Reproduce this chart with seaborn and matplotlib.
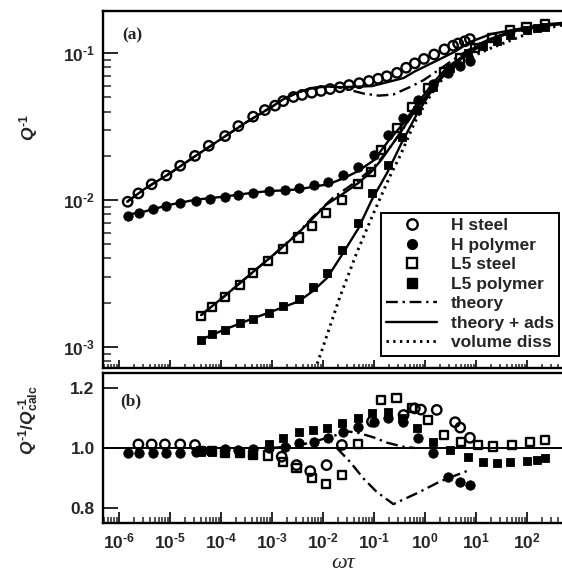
import numpy as np
import matplotlib
matplotlib.use("Agg")
import matplotlib.pyplot as plt
import seaborn as sns
from matplotlib.lines import Line2D
from matplotlib.ticker import FixedLocator, LogLocator, NullFormatter, NullLocator

# ---------------- data (log10 values) ----------------
# panel (a): measured Q^-1 versus omega*tau
hsteel_lx = [-5.83, -5.62, -5.36, -5.07, -4.80, -4.51, -4.24, -3.92, -3.66, -3.37, -3.14, -2.94,
             -2.78, -2.58, -2.41, -2.22, -2.04, -1.86, -1.67, -1.49, -1.29, -1.10, -0.92, -0.75,
             -0.55, -0.37, -0.20, -0.02, 0.18, 0.38, 0.55, 0.65, 0.78, 0.88]
hsteel_ly = [-2.012, -1.955, -1.893, -1.833, -1.767, -1.700, -1.631, -1.565, -1.497, -1.433, -1.388, -1.358,
             -1.327, -1.299, -1.285, -1.270, -1.258, -1.245, -1.233, -1.218, -1.205, -1.190, -1.175, -1.158,
             -1.135, -1.100, -1.070, -1.040, -1.010, -0.975, -0.950, -0.935, -0.920, -0.905]

hpoly_lx = [-5.83, -5.60, -5.34, -5.07, -4.80, -4.49, -4.22, -3.92, -3.66, -3.37, -3.05, -2.75, -2.47,
            -2.18, -1.90, -1.60, -1.31, -1.01, -0.72, -0.43, -0.13, 0.16, 0.45, 0.69, 0.88]
hpoly_ly = [-2.109, -2.090, -2.063, -2.041, -2.018, -2.005, -1.993, -1.978, -1.966, -1.950, -1.939, -1.932, -1.920,
            -1.900, -1.878, -1.830, -1.773, -1.694, -1.558, -1.444, -1.320, -1.211, -1.136, -1.088, -1.054]

l5steel_lx = [-4.39, -4.18, -3.92, -3.63, -3.37, -3.07, -2.78, -2.48, -2.22, -1.94, -1.63, -1.31,
              -1.06, -0.86, -0.555, -0.25, 0.065, 0.37, 0.69, 0.98, 1.31, 1.67, 1.99, 2.35]
l5steel_ly = [-2.787, -2.730, -2.658, -2.578, -2.499, -2.415, -2.333, -2.255, -2.177, -2.090, -2.000, -1.893,
              -1.810, -1.660, -1.512, -1.365, -1.235, -1.127, -1.037, -0.965, -0.900, -0.845, -0.820, -0.800]

l5poly_lx = [-4.39, -4.18, -3.92, -3.63, -3.37, -3.05, -2.79, -2.48, -2.20, -1.92, -1.63, -1.31, -1.045,
             -0.735, -0.457, -0.16, 0.163, 0.49, 0.84, 1.14, 1.41, 1.67, 1.99, 2.20, 2.35]
l5poly_ly = [-2.952, -2.914, -2.884, -2.839, -2.810, -2.771, -2.721, -2.673, -2.595, -2.500, -2.340, -2.154, -1.954,
             -1.759, -1.569, -1.388, -1.229, -1.104, -1.000, -0.955, -0.918, -0.878, -0.845, -0.832, -0.822]

# curves in panel (a)
ads_hs_lx = [-5.84, -5.5, -5.0, -4.5, -4.0, -3.5, -3.0, -2.78, -2.52, -2.25, -1.93, -1.63, -1.04, -0.42,
             -0.2, 0.23, 0.59, 0.88, 1.3, 1.8, 2.35, 2.686]
ads_hs_ly = [-2.012, -1.925, -1.818, -1.700, -1.585, -1.470, -1.365, -1.315, -1.272, -1.240, -1.228, -1.232,
             -1.225, -1.170, -1.125, -1.052, -0.990, -0.925, -0.870, -0.838, -0.812, -0.800]
th_hs_lx = [-5.84, -5.5, -5.0, -4.5, -4.0, -3.5, -3.0, -2.78, -2.52, -2.25, -1.93, -1.73, -1.47, -1.2,
            -0.9, -0.62, -0.3, -0.03, 0.29, 0.62, 0.95, 1.3, 1.8, 2.35, 2.686]
th_hs_ly = [-2.012, -1.925, -1.818, -1.700, -1.585, -1.470, -1.365, -1.315, -1.272, -1.240, -1.228, -1.231,
            -1.252, -1.276, -1.290, -1.282, -1.232, -1.185, -1.110, -1.030, -0.957, -0.900, -0.850, -0.815, -0.800]
ads_hp_lx = [-5.84, -5.5, -5.0, -4.5, -3.92, -3.37, -3.05, -2.75, -2.47, -2.18, -1.90, -1.60, -1.31, -1.01,
             -0.72, -0.43, -0.13, 0.16, 0.45, 0.69, 0.88, 1.3, 1.8, 2.35, 2.686]
ads_hp_ly = [-2.101, -2.078, -2.032, -1.998, -1.976, -1.950, -1.939, -1.934, -1.927, -1.909, -1.893, -1.853,
             -1.803, -1.731, -1.599, -1.481, -1.334, -1.203, -1.092, -1.036, -0.997, -0.905, -0.848, -0.812, -0.800]
ads_l5s_lx = [-4.39, -3.92, -3.37, -3.0, -2.5, -2.2, -1.94, -1.63, -1.31, -1.06, -0.86, -0.555, -0.25, 0.065,
              0.37, 0.69, 0.98, 1.31, 1.67, 1.99, 2.35, 2.686]
ads_l5s_ly = [-2.783, -2.651, -2.489, -2.382, -2.230, -2.125, -2.032, -1.963, -1.885, -1.810, -1.728, -1.578,
              -1.418, -1.274, -1.145, -1.045, -0.970, -0.902, -0.852, -0.828, -0.812, -0.800]
th_l5s_lx = [-4.39, -3.92, -3.37, -3.0, -2.5, -2.2, -1.8, -1.5, -1.3, -1.0, -0.75, -0.45, -0.25, 0.065,
             0.37, 0.69, 0.98, 1.31, 1.67, 1.99, 2.35, 2.686]
th_l5s_ly = [-2.783, -2.651, -2.489, -2.382, -2.227, -2.116, -1.983, -1.912, -1.862, -1.775, -1.672, -1.528,
             -1.418, -1.274, -1.145, -1.045, -0.970, -0.902, -0.852, -0.828, -0.812, -0.800]
ads_l5p_lx = [-4.39, -3.92, -3.37, -3.05, -2.79, -2.48, -2.2, -1.92, -1.63, -1.31, -1.045, -0.735, -0.457,
              -0.16, 0.163, 0.49, 0.84, 1.14, 1.41, 1.67, 1.99, 2.35, 2.686]
ads_l5p_ly = [-2.950, -2.880, -2.805, -2.765, -2.730, -2.690, -2.620, -2.530, -2.374, -2.195, -2.000, -1.810,
              -1.610, -1.416, -1.238, -1.101, -0.987, -0.935, -0.895, -0.857, -0.826, -0.805, -0.795]
vol_lx = [-2.2, -2.0, -1.67, -1.34, -1.01, -0.69, -0.49, -0.2, 0.03, 0.26, 0.55, 0.95, 1.27, 1.6, 2.0, 2.35, 2.686]
vol_ly = [-3.20, -3.00, -2.66, -2.36, -2.09, -1.84, -1.70, -1.47, -1.33, -1.21, -1.10, -1.02, -0.97, -0.925,
          -0.87, -0.835, -0.81]

# panel (b): Q^-1 / Q^-1_calc
hsteel_rlx = [-5.62, -5.36, -5.10, -4.80, -4.51, -2.81, -2.52, -2.25, -1.93, -1.63, -1.04, -0.42, -0.20,
              -0.08, 0.23, 0.59, 0.69, 0.88]
hsteel_r = [1.012, 1.012, 1.012, 1.012, 1.010, 0.971, 0.943, 0.923, 0.943, 1.010, 1.088, 1.110, 1.132,
            1.128, 1.127, 1.086, 1.068, 1.034]
hpoly_r = [0.982, 0.982, 0.982, 0.982, 0.982, 0.985, 0.990, 0.995, 0.993, 0.998, 1.000, 1.004, 1.016,
           1.021, 1.034, 1.054, 1.070, 1.088, 1.099, 1.088, 1.032, 0.982, 0.904, 0.888, 0.877]
l5steel_rlx = [-4.39, -4.18, -3.92, -3.63, -3.37, -3.07, -2.78, -2.52, -2.22, -1.94, -1.63, -1.31, -0.86,
               -0.56, -0.25, 0.065, 0.37, 0.70, 1.04, 1.33, 1.70, 2.06, 2.35]
l5steel_r = [0.990, 0.990, 0.985, 0.982, 0.978, 0.975, 0.954, 0.932, 0.899, 0.880, 0.910, 1.012, 1.160,
             1.166, 1.132, 1.093, 1.043, 1.019, 1.011, 1.005, 1.011, 1.019, 1.027]
l5poly_r = [0.985, 0.985, 0.985, 0.988, 0.977, 1.012, 1.032, 1.054, 1.060, 1.068, 1.082, 1.099, 1.116,
            1.121, 1.100, 1.066, 1.021, 0.993, 0.971, 0.954, 0.949, 0.952, 0.957, 0.960, 0.966]
th_hs_rlx = [-1.73, -1.47, -1.21, -0.95, -0.62, -0.16, 0.29, 0.62, 0.88]
th_hs_r = [1.000, 0.954, 0.899, 0.854, 0.813, 0.849, 0.888, 0.910, 0.927]
th_l5s_rlx = [-3.0, -2.5, -2.2, -1.8, -1.5, -1.3, -1.0, -0.75, -0.45, -0.2]
th_l5s_r = [1.000, 1.008, 1.020, 1.040, 1.055, 1.050, 1.035, 1.018, 1.005, 1.000]

x_major_exp = list(range(-6, 3))
y_major_exp = [-3, -2, -1]
ratio_ticks = [0.8, 1.0, 1.2]
legend_labels = ["H steel", "H polymer", "L5 steel", "L5 polymer", "theory", "theory + ads", "volume diss"]


def P(a):
    return np.power(10.0, np.asarray(a, dtype=float))


def pow_label(e):
    # hyphen-style minus as in the original figure
    if e < 0:
        return r"$10^{\text{-}%d}$" % (-e)
    return r"$10^{%d}$" % e


# ---------------- style ----------------
sns.set_style("ticks")
plt.rcParams.update({
    "font.family": ["Liberation Sans", "DejaVu Sans"],
    "font.weight": "bold",
    "mathtext.fontset": "custom",
    "mathtext.rm": "Liberation Sans:bold",
    "mathtext.it": "Liberation Sans:italic:bold",
    "mathtext.bf": "Liberation Sans:bold",
    "mathtext.default": "rm",
    "axes.unicode_minus": False,
    "axes.linewidth": 1.7,
    "axes.edgecolor": "black",
})

W, H = 562, 579
fig = plt.figure(figsize=(W / 100, H / 100), dpi=100)
L = 103
ax1 = fig.add_axes([L / W, 1 - 368 / H, (W - L) / W, (368 - 11) / H])
ax2 = fig.add_axes([L / W, 1 - 523 / H, (W - L) / W, (523 - 373) / H])

DASHDOT = (0, (5, 2, 1, 2))
DOT = (0, (0.8, 1.5))
LW = 1.7

for ax in (ax1, ax2):
    ax.set_xscale("log")
ax1.set_yscale("log")

# panel (a) curves
for lx, ly in [(ads_hs_lx, ads_hs_ly), (ads_hp_lx, ads_hp_ly), (ads_l5s_lx, ads_l5s_ly), (ads_l5p_lx, ads_l5p_ly)]:
    sns.lineplot(x=P(lx), y=P(ly), ax=ax1, color="k", lw=LW, sort=False, estimator=None, zorder=2)
for lx, ly in [(th_hs_lx, th_hs_ly), (th_l5s_lx, th_l5s_ly)]:
    sns.lineplot(x=P(lx), y=P(ly), ax=ax1, color="k", lw=LW, linestyle=DASHDOT, sort=False, estimator=None, zorder=2)
sns.lineplot(x=P(vol_lx), y=P(vol_ly), ax=ax1, color="k", lw=2.1, linestyle=DOT, sort=False, estimator=None, zorder=2)


def markers(ax, x, y, kind):
    if kind == "hsteel":
        sns.scatterplot(x=x, y=y, ax=ax, marker="o", s=46, facecolor="none", edgecolor="k", linewidth=1.7, zorder=3)
    elif kind == "hpoly":
        sns.scatterplot(x=x, y=y, ax=ax, marker="o", s=46, color="k", edgecolor="k", linewidth=0.6, zorder=4)
    elif kind == "l5steel":
        sns.scatterplot(x=x, y=y, ax=ax, marker="s", s=34, facecolor="none", edgecolor="k", linewidth=1.7, zorder=3)
    else:
        sns.scatterplot(x=x, y=y, ax=ax, marker="s", s=38, color="k", edgecolor="k", linewidth=0.6, zorder=4)


markers(ax1, P(hsteel_lx), P(hsteel_ly), "hsteel")
markers(ax1, P(hpoly_lx), P(hpoly_ly), "hpoly")
markers(ax1, P(l5steel_lx), P(l5steel_ly), "l5steel")
markers(ax1, P(l5poly_lx), P(l5poly_ly), "l5poly")

# panel (b)
ax2.axhline(1.0, color="k", lw=1.4, zorder=1)
sns.lineplot(x=P(th_hs_rlx), y=th_hs_r, ax=ax2, color="k", lw=LW, linestyle=DASHDOT, sort=False, estimator=None, zorder=2)
sns.lineplot(x=P(th_l5s_rlx), y=th_l5s_r, ax=ax2, color="k", lw=LW, linestyle=DASHDOT, sort=False, estimator=None, zorder=2)
markers(ax2, P(hsteel_rlx), hsteel_r, "hsteel")
markers(ax2, P(l5steel_rlx), l5steel_r, "l5steel")
markers(ax2, P(hpoly_lx), hpoly_r, "hpoly")
markers(ax2, P(l5poly_lx), l5poly_r, "l5poly")

# ---------------- axes ----------------
xmin, xmax = 10 ** -6.314, 10 ** 2.686
for ax in (ax1, ax2):
    ax.set_xlim(xmin, xmax)
    ax.spines["right"].set_visible(False)
    ax.xaxis.set_major_locator(FixedLocator(P(x_major_exp)))
    ax.xaxis.set_minor_locator(LogLocator(base=10, subs=np.arange(2, 10), numticks=40))
    ax.set_xlabel("")
    ax.set_ylabel("")
ax1.set_ylim(10 ** -3.143, 10 ** -0.714)
ax2.set_ylim(0.75, 1.25)

ax1.yaxis.set_major_locator(FixedLocator(P(y_major_exp)))
ax1.yaxis.set_minor_locator(LogLocator(base=10, subs=np.arange(2, 10), numticks=40))
ax1.set_yticklabels([pow_label(e) for e in y_major_exp])
ax1.xaxis.set_major_formatter(NullFormatter())
ax1.xaxis.set_minor_formatter(NullFormatter())
ax1.yaxis.set_minor_formatter(NullFormatter())

ax2.yaxis.set_major_locator(FixedLocator(ratio_ticks))
ax2.yaxis.set_minor_locator(NullLocator())
ax2.set_yticklabels([f"{v:.1f}" for v in ratio_ticks])
ax2.set_xticklabels([pow_label(e) for e in x_major_exp])
ax2.xaxis.set_minor_formatter(NullFormatter())

ax1.tick_params(axis="x", which="major", direction="in", length=6, width=1.4, top=False)
ax1.tick_params(axis="x", which="minor", direction="in", length=3, width=1.1, top=False)
ax2.tick_params(axis="x", which="major", direction="in", length=8, width=1.4, top=False, pad=6)
ax2.tick_params(axis="x", which="minor", direction="in", length=4.3, width=1.1, top=False)
for ax in (ax1, ax2):
    ax.tick_params(axis="y", which="major", direction="in", length=11, width=1.4, right=False, pad=6)
ax1.tick_params(axis="y", which="minor", direction="in", length=5.8, width=1.1, right=False)
for ax in (ax1, ax2):
    for lab in ax.get_xticklabels() + ax.get_yticklabels():
        lab.set_fontsize(12.5)
        lab.set_fontweight("bold")

# ---------------- texts ----------------
fig.text(122 / W, 1 - 35 / H, "(a)", family="Liberation Serif", weight="bold", fontsize=12.5, va="center", ha="left")
fig.text(120 / W, 1 - 401 / H, "(b)", family="Liberation Serif", weight="bold", fontsize=12.5, va="center", ha="left")
fig.text(29 / W, 1 - 127 / H, r"$\mathit{Q}^{\text{-}1}$", rotation=90, fontsize=12.5, ha="center", va="center")
fig.text(29 / W, 1 - 420 / H, r"$\mathit{Q}^{\text{-}1}/\mathit{Q}^{\text{-}1}_{\mathrm{calc}}$", rotation=90,
         fontsize=12.5, ha="center", va="center")
fig.text(343 / W, 1 - 563 / H, "ωτ", family="Liberation Serif", style="italic", weight="normal", fontsize=16,
         ha="center", va="center")

# ---------------- legend ----------------
handles = [
    Line2D([], [], ls="", marker="o", ms=7.5, mfc="none", mec="k", mew=1.7),
    Line2D([], [], ls="", marker="o", ms=7, mfc="k", mec="k"),
    Line2D([], [], ls="", marker="s", ms=6.5, mfc="none", mec="k", mew=1.7),
    Line2D([], [], ls="", marker="s", ms=6.5, mfc="k", mec="k"),
    Line2D([], [], color="k", lw=LW, ls=DASHDOT),
    Line2D([], [], color="k", lw=LW, ls="-"),
    Line2D([], [], color="k", lw=2.1, ls=DOT),
]
leg = ax1.legend(handles, legend_labels, loc="upper right", bbox_to_anchor=((559 - L) / (W - L), (368 - 213) / 357),
                 borderaxespad=0, frameon=True, fancybox=False, edgecolor="k", framealpha=1, numpoints=1,
                 prop=dict(family="Liberation Sans", weight="bold", size=12.5), handlelength=2.9,
                 handletextpad=0.8, labelspacing=0.25, borderpad=0.3)
leg.get_frame().set_linewidth(1.4)

fig.savefig("out.png", dpi=100)
